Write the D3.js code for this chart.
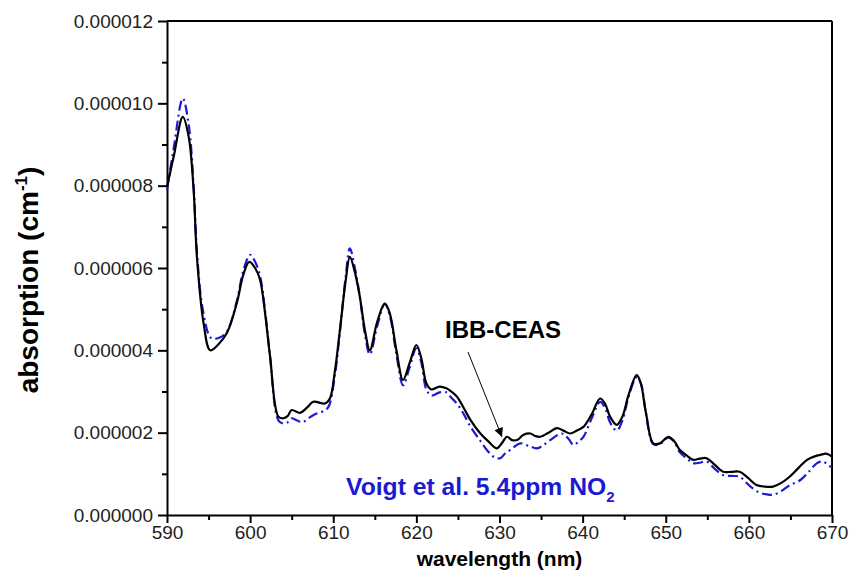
<!DOCTYPE html>
<html>
<head>
<meta charset="utf-8">
<script src="https://cdn.jsdelivr.net/npm/d3@7"></script>
<style>
  body { margin: 0; background: #fff; }
  svg { font-family: "Liberation Sans", Arial, sans-serif; }
  .axis path, .axis line { stroke: #000; stroke-width: 2px; }
  .axis text { font-size: 19px; fill: #222; }
</style>
</head>
<body>
<div class="chart"></div>
<script>
// wavelength in nm, absorption in units of 1e-6 cm^-1
const ceasWl = [590, 590.8, 591.9, 592.6, 593.2, 593.6, 594.4, 595.2, 596.2, 597.2, 598.4, 599.2, 599.9, 600.6, 601.2, 601.8, 602.4, 603.4,
  604.0, 604.5, 605.0, 606.0, 606.8, 607.6, 609.0, 609.6, 610.2, 610.8, 611.5, 612.0, 612.6, 613.2, 613.8, 614.4, 615.3, 616.2, 616.8,
  617.6, 618.4, 619.2, 620.0, 620.6, 621.2, 621.8, 622.8, 623.6, 624.2, 624.9, 625.7, 626.5, 627.7, 628.6, 629.7, 630.3, 630.9, 631.5,
  632.1, 632.9, 633.7, 634.3, 634.9, 635.9, 636.9, 637.7, 638.5, 639.3, 640.1, 641.1, 642.1, 642.7, 643.3, 644.1, 644.8, 645.5, 646.5,
  647.0, 647.6, 648.5, 649.3, 650.3, 651.0, 651.7, 652.5, 653.3, 654.1, 654.9, 655.9, 656.9, 657.9, 658.9, 659.9, 660.9, 661.9, 662.9,
  663.9, 664.9, 666.0, 667.0, 668.0, 668.6, 669.3, 670];
const ceasAbs = [7.97, 8.7, 9.67, 9.2, 7.9, 6.27, 4.66, 4.0, 4.15, 4.42, 5.15, 5.85, 6.15, 6.0, 5.71, 4.9, 3.85, 2.39,
  2.35, 2.4, 2.55, 2.48, 2.6, 2.75, 2.71, 2.83, 3.5, 4.49, 5.7, 6.27, 5.9, 5.3, 4.5, 4.0, 4.7, 5.14, 4.9,
  4.0, 3.28, 3.7, 4.13, 3.8, 3.2, 3.05, 3.12, 3.08, 3.0, 2.87, 2.6, 2.31, 1.98, 1.8, 1.62, 1.75, 1.9, 1.82,
  1.82, 1.95, 1.98, 1.92, 1.9, 2.0, 2.11, 2.05, 1.98, 2.05, 2.14, 2.45, 2.83, 2.7, 2.39, 2.19, 2.4, 2.9, 3.4,
  3.2, 2.5, 1.74, 1.74, 1.9, 1.8, 1.58, 1.45, 1.34, 1.37, 1.38, 1.22, 1.05, 1.05, 1.05, 0.9, 0.73, 0.69, 0.69,
  0.78, 0.93, 1.15, 1.34, 1.43, 1.46, 1.49, 1.42];

const voigtWl = [590, 590.8, 591.9, 592.6, 593.2, 593.6, 594.3, 595.3, 596.2, 597.2, 598.4, 599.2, 600.0, 600.6, 601.2, 601.8, 602.4, 603.4,
  604.0, 604.5, 605.0, 605.6, 606.3, 607.0, 607.8, 608.6, 609.4, 610.2, 610.8, 611.5, 612.0, 612.6, 613.2, 613.8, 614.4, 615.3, 616.2,
  616.8, 617.6, 618.4, 619.2, 620.0, 620.6, 621.2, 621.8, 622.8, 623.6, 624.2, 624.9, 625.7, 626.5, 627.7, 628.6, 629.4, 630.1, 630.7,
  631.3, 632.5, 633.5, 634.5, 635.3, 636.1, 637.5, 638.3, 638.9, 639.6, 640.1, 641.1, 642.1, 642.7, 643.3, 644.1, 644.8, 645.5, 646.5,
  647.0, 647.6, 648.5, 649.3, 650.3, 651.0, 651.7, 652.5, 653.3, 654.1, 654.9, 655.9, 656.9, 657.9, 658.9, 659.6, 660.2, 661.2, 662.2,
  662.9, 663.9, 664.9, 666.2, 667.2, 668.2, 668.9, 669.6, 670];
const voigtAbs = [7.9, 8.9, 10.12, 9.5, 8.0, 6.4, 5.0, 4.3, 4.3, 4.45, 5.2, 5.95, 6.32, 6.15, 5.8, 4.95, 3.85, 2.3,
  2.22, 2.25, 2.35, 2.3, 2.25, 2.35, 2.45, 2.5, 2.62, 3.4, 4.45, 5.8, 6.48, 6.0, 5.3, 4.4, 3.9, 4.6, 5.12,
  4.85, 3.9, 3.15, 3.6, 4.05, 3.7, 3.05, 2.9, 2.98, 2.98, 2.85, 2.7, 2.45, 2.15, 1.8, 1.55, 1.4, 1.38, 1.5,
  1.58, 1.74, 1.68, 1.62, 1.7, 1.82, 1.98, 1.85, 1.7, 1.8, 1.9, 2.35, 2.75, 2.6, 2.25, 2.05, 2.3, 2.85, 3.35,
  3.2, 2.5, 1.72, 1.72, 1.88, 1.78, 1.52, 1.38, 1.26, 1.27, 1.3, 1.12, 0.97, 0.95, 0.93, 0.8, 0.69, 0.55, 0.5,
  0.49, 0.58, 0.72, 0.85, 1.05, 1.26, 1.3, 1.2, 1.15];

const xTicks = [590, 600, 610, 620, 630, 640, 650, 660, 670];
const yTicks = [0, 2, 4, 6, 8, 10, 12];

const W = 849, H = 573;
const margin = {top: 21, right: 17, bottom: 58, left: 167};
const width = W - margin.left - margin.right;
const height = H - margin.top - margin.bottom;

const svg = d3.select(".chart").append("svg")
  .attr("width", W).attr("height", H);

const g = svg.append("g")
  .attr("transform", "translate(" + margin.left + "," + margin.top + ")");

const x = d3.scaleLinear().domain([590, 670]).range([0, width]);
const y = d3.scaleLinear().domain([0, 12]).range([height, 0]);

// minor ticks first so the major ones draw on top
g.append("g").attr("class", "axis")
  .attr("transform", "translate(0," + height + ")")
  .call(d3.axisBottom(x).tickValues(d3.range(595, 670, 10)).tickSize(5).tickFormat(""))
  .select(".domain").remove();
g.append("g").attr("class", "axis")
  .call(d3.axisLeft(y).tickValues(d3.range(1, 12, 2)).tickSize(5).tickFormat(""))
  .select(".domain").remove();

g.append("g").attr("class", "axis")
  .attr("transform", "translate(0," + height + ")")
  .call(d3.axisBottom(x).tickValues(xTicks).tickSize(8).tickSizeOuter(0).tickPadding(3));
g.append("g").attr("class", "axis")
  .call(d3.axisLeft(y).tickValues(yTicks).tickSize(9).tickSizeOuter(0).tickPadding(5)
    .tickFormat(d => (d * 1e-6).toFixed(6)));

// top and right frame
g.append("line").attr("x1", 0).attr("x2", width).attr("y1", 0).attr("y2", 0)
  .attr("stroke", "#000").attr("stroke-width", 2);
g.append("line").attr("x1", width).attr("x2", width).attr("y1", 0).attr("y2", height)
  .attr("stroke", "#000").attr("stroke-width", 2);

const line = d3.line()
  .x(d => x(d[0]))
  .y(d => y(d[1]))
  .curve(d3.curveCatmullRom.alpha(0.5));

g.append("path")
  .datum(d3.zip(voigtWl, voigtAbs))
  .attr("d", line)
  .attr("fill", "none")
  .attr("stroke", "#1a1ad2")
  .attr("stroke-width", 2.2)
  .attr("stroke-dasharray", "10 4 2 4");

g.append("path")
  .datum(d3.zip(ceasWl, ceasAbs))
  .attr("d", line)
  .attr("fill", "none")
  .attr("stroke", "#000")
  .attr("stroke-width", 2.2);

// axis titles
svg.append("text")
  .attr("x", margin.left + width / 2)
  .attr("y", 566)
  .attr("text-anchor", "middle")
  .style("font-size", "21px").style("font-weight", "bold")
  .text("wavelength (nm)");

const yt = svg.append("text")
  .attr("transform", "translate(38,280) rotate(-90)")
  .attr("text-anchor", "middle")
  .style("font-size", "28px").style("font-weight", "bold");
yt.append("tspan").text("absorption (cm");
yt.append("tspan").attr("dy", -11).style("font-size", "17px").text("-1");
yt.append("tspan").attr("dy", 11).text(")");

// annotations
svg.append("defs").append("marker")
  .attr("id", "arrow")
  .attr("viewBox", "0 0 10 10")
  .attr("refX", 10).attr("refY", 5)
  .attr("markerWidth", 11).attr("markerHeight", 9)
  .attr("markerUnits", "userSpaceOnUse")
  .attr("orient", "auto")
  .append("path").attr("d", "M0,0L10,5L0,10Z").attr("fill", "#000");

svg.append("text")
  .attr("x", 445).attr("y", 338)
  .style("font-size", "24px").style("font-weight", "bold")
  .text("IBB-CEAS");

svg.append("line")
  .attr("x1", 468).attr("y1", 352)
  .attr("x2", 502).attr("y2", 437)
  .attr("stroke", "#000").attr("stroke-width", 1)
  .attr("marker-end", "url(#arrow)");

const vt = svg.append("text")
  .attr("x", 346).attr("y", 495)
  .style("font-size", "24.7px").style("font-weight", "bold")
  .attr("fill", "#1a1ad2");
vt.append("tspan").text("Voigt et al. 5.4ppm NO");
vt.append("tspan").attr("dy", 7).style("font-size", "15px").text("2");
</script>
</body>
</html>
